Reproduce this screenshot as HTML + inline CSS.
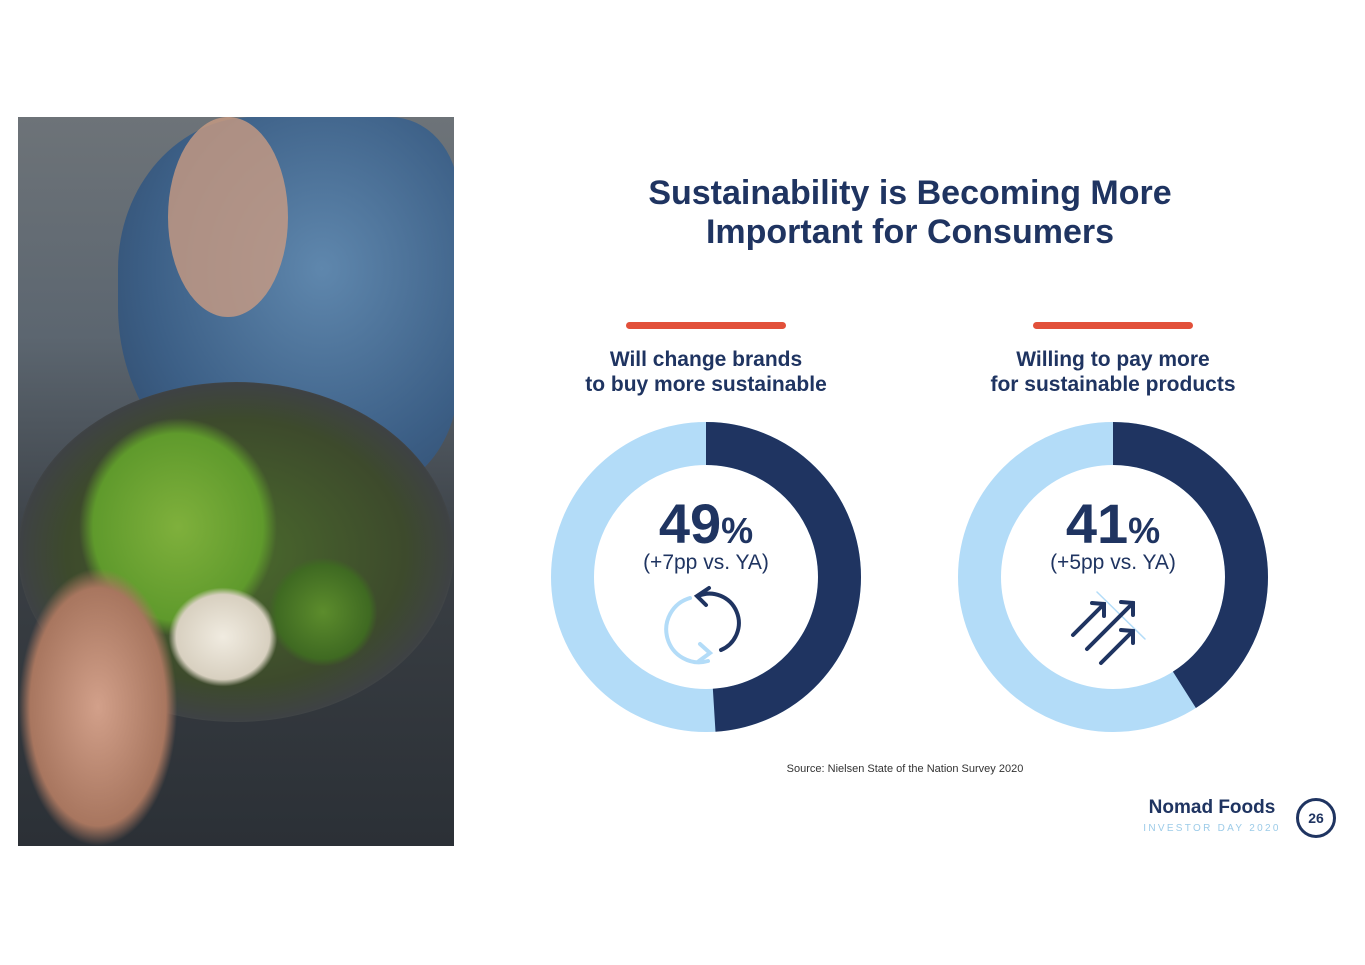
<!DOCTYPE html>
<html><head><meta charset="utf-8"><style>
body{margin:0;width:1365px;height:965px;background:#fff;position:relative;overflow:hidden;font-family:"Liberation Sans",sans-serif;color:#1f3461}
.abs{position:absolute}
</style></head><body>
<div class="abs" style="left:18px;top:117px;width:436px;height:729px;overflow:hidden;background:linear-gradient(180deg,#6d7378 0%,#5c6670 30%,#3a3f44 60%,#2b3036 100%)">
 <div class="abs" style="left:100px;top:0;width:340px;height:380px;border-radius:40% 20% 30% 50%;background:radial-gradient(ellipse at 60% 40%,#5f87ad,#3c5f86 60%,#2d4564)"></div>
 <div class="abs" style="left:150px;top:0;width:120px;height:200px;border-radius:50%;background:#c99b82;opacity:.8"></div>
 <div class="abs" style="left:0;top:265px;width:436px;height:340px;border-radius:50%;background:radial-gradient(ellipse at 50% 50%,#4a6a2c,#3d4a2c 55%,#3e4244 70%,#5a5e60 78%,#2a2d30 82%)"></div>
 <div class="abs" style="left:60px;top:300px;width:200px;height:220px;border-radius:50%;background:radial-gradient(#7fb03c,#5f9a2c 60%,transparent 70%)"></div>
 <div class="abs" style="left:150px;top:470px;width:110px;height:100px;border-radius:50%;background:radial-gradient(#f0ebe0,#d8d0c0 60%,transparent 70%)"></div>
 <div class="abs" style="left:250px;top:440px;width:110px;height:110px;border-radius:50%;background:radial-gradient(#5c8c2c,#3f6a22 60%,transparent 70%)"></div>
 <div class="abs" style="left:0;top:450px;width:160px;height:280px;border-radius:50%;background:radial-gradient(#d2a08a,#a8765f 60%,transparent 70%)"></div>
</div>
<div class="abs" style="left:560px;top:174px;width:700px;text-align:center;font-size:34px;font-weight:bold;line-height:39px">Sustainability is Becoming More<br>Important for Consumers</div>
<div class="abs" style="left:626px;top:322px;width:160px;height:7px;border-radius:4px;background:#e2503a"></div>
<div class="abs" style="left:1033px;top:322px;width:160px;height:7px;border-radius:4px;background:#e2503a"></div>
<div class="abs" style="left:506px;top:347px;width:400px;text-align:center;font-size:21px;font-weight:bold;line-height:25px">Will change brands<br>to buy more sustainable</div>
<div class="abs" style="left:913px;top:347px;width:400px;text-align:center;font-size:21px;font-weight:bold;line-height:25px">Willing to pay more<br>for sustainable products</div>
<svg class="abs" style="left:0;top:0" width="1365" height="965" id="chart">
 <g id="donuts"></g>
 <g fill="none" stroke-width="4" stroke-linecap="round">
  <path d="M690 598 A30 30 0 0 0 708 661" stroke="#b3dcf8"/>
  <path d="M700 644 L710 653 L699 661" stroke="#b3dcf8"/>
  <path d="M698 596 A28 28 0 0 1 721 650" stroke="#1f3461"/>
  <path d="M709 588 L697 596 L706 605" stroke="#1f3461"/>
 </g>
 <g fill="none" stroke="#1f3461" stroke-width="4" stroke-linecap="round">
  <line x1="1097" y1="592" x2="1145" y2="639" stroke="#b3dcf8" stroke-width="1.5"/>
  <path d="M1073 635 L1104 604 M1092 603 L1104 604 L1104 616"/>
  <path d="M1087 649 L1133 603 M1121 602 L1133 603 L1133 615"/>
  <path d="M1101 663 L1133 631 M1121 630 L1133 631 L1133 643"/>
 </g>
</svg>
<div class="abs" style="left:606px;top:492px;width:200px;text-align:center;font-size:56px;font-weight:bold;line-height:64px">49<span style="font-size:36px">%</span></div>
<div class="abs" style="left:606px;top:550px;width:200px;text-align:center;font-size:21px;line-height:26px">(+7pp vs. YA)</div>
<div class="abs" style="left:1013px;top:492px;width:200px;text-align:center;font-size:56px;font-weight:bold;line-height:64px">41<span style="font-size:36px">%</span></div>
<div class="abs" style="left:1013px;top:550px;width:200px;text-align:center;font-size:21px;line-height:26px">(+5pp vs. YA)</div>
<div class="abs" style="left:705px;top:763px;width:400px;text-align:center;font-size:11px;color:#333">Source: Nielsen State of the Nation Survey 2020</div>
<div class="abs" style="left:1140px;top:797px;width:144px;text-align:center;font-size:19px;font-weight:bold">Nomad Foods</div>
<div class="abs" style="left:1140px;top:823px;width:144px;text-align:center;font-size:10px;letter-spacing:2.3px;color:#9ccbe8">INVESTOR DAY 2020</div>
<div class="abs" style="left:1296px;top:798px;width:34px;height:34px;border:3px solid #1f3461;border-radius:50%;text-align:center;line-height:34px;font-size:14px;font-weight:bold">26</div>
<script>
const categories=["Will change brands","Willing to pay more"];
const values=[49,41];
const centersX=[706,1113];
const g=document.getElementById('donuts');
const NS="http://www.w3.org/2000/svg";
const r=133.5, C=2*Math.PI*r;
values.forEach((v,i)=>{
 const bg=document.createElementNS(NS,'circle');
 
 
 bg.setAttribute('cx',centersX[i]);bg.setAttribute('cy',577);bg.setAttribute('r',r);
 bg.setAttribute('fill','none');bg.setAttribute('stroke','#b3dcf8');bg.setAttribute('stroke-width',43);
 g.appendChild(bg);
 const arc=document.createElementNS(NS,'circle');
 
 
 arc.setAttribute('cx',centersX[i]);arc.setAttribute('cy',577);arc.setAttribute('r',r);
 arc.setAttribute('fill','none');arc.setAttribute('stroke','#1f3461');arc.setAttribute('stroke-width',43);
 arc.setAttribute('stroke-dasharray',(v/100*C)+' '+C);
 arc.setAttribute('transform','rotate(-90 '+centersX[i]+' 577)');
 g.appendChild(arc);
});
</script>
</body></html>
